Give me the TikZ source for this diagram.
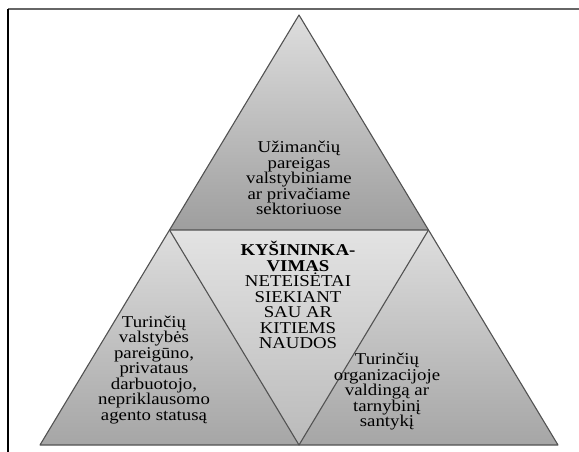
\documentclass[tikz,border=0pt]{standalone}
\usepackage{fontspec}
\setmainfont{Liberation Serif}[FakeStretch=1.14]
\begin{document}
\begin{tikzpicture}[x=1pt,y=-1pt,
  edge/.style={draw=black!68,line width=1.1pt,line join=round},
  label/.style={align=center,font=\fontsize{16.5}{15.5}\selectfont,inner sep=0pt}]
\useasboundingbox (0,0) rectangle (579,452);
% frame
\draw[black!60,line width=1.4pt] (8,9) -- (579,9);
\draw[black,line width=1.3pt] (8,9) -- (8,452);
% corner coordinates
\coordinate (A) at (299,15);
\coordinate (L) at (40,445);
\coordinate (M) at (299,445);
\coordinate (R) at (558,445);
\coordinate (ML) at (169.5,230);
\coordinate (MR) at (428.5,230);
% shadow
\fill[black!30] ([yshift=2.5]L) -- ([yshift=2.5]R) -- ([yshift=0.5]R) -- ([yshift=0.5]L) -- cycle;
% triangles
\path[top color=black!13,bottom color=black!38] (A) -- (MR) -- (ML) -- cycle;
\path[top color=black!13,bottom color=black!35] (ML) -- (M) -- (L) -- cycle;
\path[top color=black!13,bottom color=black!35] (MR) -- (R) -- (M) -- cycle;
\path[top color=black!11,bottom color=black!27] (ML) -- (MR) -- (M) -- cycle;
\draw[edge] (A) -- (R) -- (L) -- cycle;
\draw[edge] (ML) -- (MR) -- (M) -- cycle;
% texts
\node[label] (top) at (299,178) {Užimančių\\pareigas\\valstybiniame\\ar privačiame\\sektoriuose};
\node[label] (mid) at (298,295) {\textbf{KYŠININKA-}\\\textbf{VIMAS}\\NETEISĖTAI\\SIEKIANT\\SAU AR\\KITIEMS\\NAUDOS};
\node[label] (left) at (154,370) {Turinčių\\valstybės\\pareigūno,\\privataus\\darbuotojo,\\nepriklausomo\\agento statusą};
\node[label] (right) at (387,392) {Turinčių\\organizacijoje\\valdingą ar\\tarnybinį\\santykį};
\end{tikzpicture}
\end{document}
